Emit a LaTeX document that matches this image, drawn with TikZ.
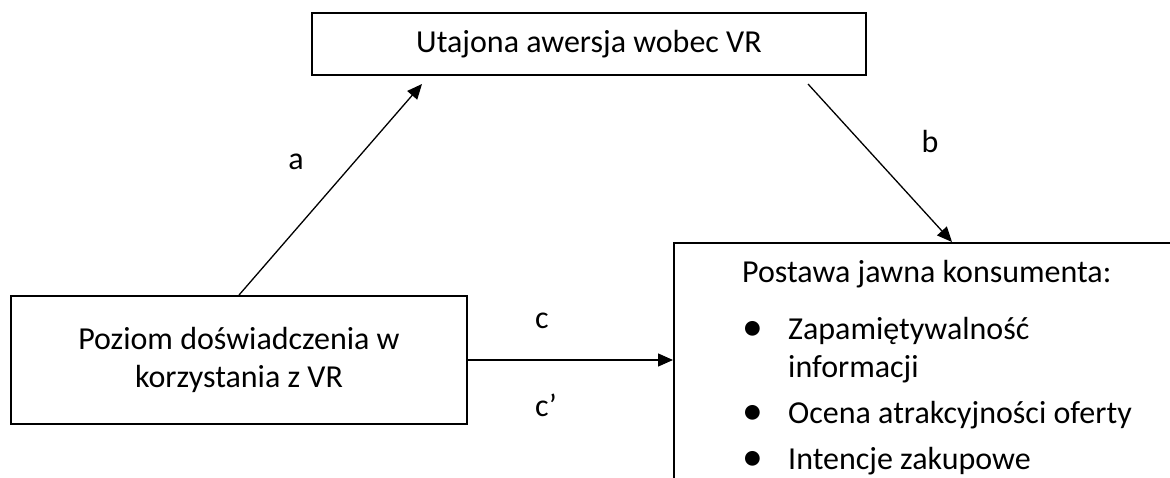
\documentclass[tikz,border=0pt]{standalone}
\usepackage{fontspec}
\setmainfont{Carlito}
\usetikzlibrary{arrows.meta}

\begin{document}
\begin{tikzpicture}[
        x=1pt,y=-1pt,
        >=Triangle,
        flow/.style={-{Triangle[length=15pt,width=13pt]},line width=1.3pt},
        construct/.style={draw,line width=1.9pt,align=center,inner sep=0pt,
          font=\fontsize{32}{38}\selectfont},
        pathlabel/.style={anchor=base,inner sep=0pt,font=\fontsize{32}{38}\selectfont}
      ]
        \useasboundingbox (0,0) rectangle (1170,478);
        \clip (0,0) rectangle (1170,478);

        \node[construct,minimum width=554pt,minimum height=62pt] (latent) at (589,44) {Utajona awersja wobec VR};
        \node[construct,minimum width=456pt,minimum height=128pt] (experience) at (239,360) {Poziom doświadczenia w\\korzystania z VR};
        \node[construct,anchor=north west,minimum width=540pt,minimum height=280pt] (attitude) at (673,242) {};
        \node[anchor=base west,inner sep=0pt,font=\fontsize{32}{38}\selectfont] (attitudelist) at (742,283) {%
          \begin{tabular}[t]{@{}p{46pt}@{}l@{}}
            \multicolumn{2}{@{}l@{}}{Postawa jawna konsumenta:}\\[19pt]
            \raisebox{-1pt}{\scalebox{1.3}{\textbullet}} & Zapamiętywalność\\
            & informacji\\[8pt]
            \raisebox{-1pt}{\scalebox{1.3}{\textbullet}} & Ocena atrakcyjności oferty\\[8pt]
            \raisebox{-1pt}{\scalebox{1.3}{\textbullet}} & Intencje zakupowe
          \end{tabular}};

        \coordinate (atip) at (422,84);
        \coordinate (bstart) at (808,84);
        \coordinate (btip) at (952,242);

        \node[pathlabel] (alabel) at (296,170) {a};
        \node[pathlabel] (blabel) at (930,153) {b};
        \node[pathlabel] (clabel) at (542,328) {c};
        \node[pathlabel] (cprimelabel) at (546,416) {c’};

        \draw[flow] (experience.north) -- (atip);
        \draw[flow] (bstart) -- (btip);
        \draw[flow] (experience.east) -- (experience.east -| attitude.west);
      \end{tikzpicture}
\end{document}
